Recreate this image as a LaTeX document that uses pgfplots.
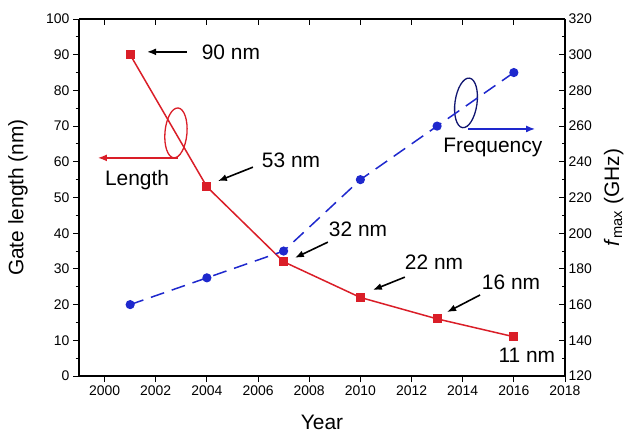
\documentclass[border=0pt]{standalone}
\usepackage{fontspec}
\setmainfont{Liberation Sans}
\usepackage{pgfplots}
\pgfplotsset{compat=1.18}
\usetikzlibrary{arrows.meta}
\definecolor{myred}{RGB}{218,30,40}
\definecolor{myblue}{RGB}{30,40,205}
\newcommand{\bigf}{\fontsize{21}{24}\selectfont}
\tikzset{ann/.style={-{Latex[length=9bp,width=7bp]}, line width=1.6bp}}
\begin{document}
\begin{tikzpicture}
\pgfplotsset{
  common/.style={
    scale only axis, width=486bp, height=357bp,
    xmin=1999, xmax=2018,
    xtick={2000,2002,...,2018}, minor x tick num=1,
    minor y tick num=1,
    major tick length=6bp, minor tick length=3.5bp,
    every tick/.style={black, line width=0.9bp},
    axis line style={line width=1.2bp, black},
    tick label style={font=\fontsize{14}{16}\selectfont},
    /pgf/number format/assume math mode=true,
    x tick label style={/pgf/number format/1000 sep={}},
    clip=false,
  }
}
\begin{axis}[common,
  ymin=0, ymax=100, ytick={0,10,...,100},
  axis x line*=bottom, axis y line*=left,
  tick align=outside,
  xlabel={Year}, ylabel={Gate length (nm)},
  x label style={at={(axis description cs:0.5,-0.13)}, anchor=center, font=\bigf},
  y label style={at={(axis description cs:-0.1255,0.5)}, anchor=center, font=\bigf},
]
\coordinate (bl) at (rel axis cs:0,0);
\addplot[myred, line width=1.5bp, mark=square*, mark size=3.8bp,
  mark options={solid, fill=myred, draw=myred}]
  coordinates {(2001,90)(2004,53)(2007,32)(2010,22)(2013,16)(2016,11)};
% annotations
\node[font=\bigf] at (axis cs:2004.94,90.8) {90 nm};
\draw[ann] (axis cs:2003.22,90.8) -- (axis cs:2001.66,90.8);
\node[font=\bigf] at (axis cs:2007.29,60.5) {53 nm};
\draw[ann] (axis cs:2005.80,58.5) -- (axis cs:2004.43,54.6);
\node[font=\bigf] at (axis cs:2009.91,41.2) {32 nm};
\draw[ann] (axis cs:2008.73,37.5) -- (axis cs:2007.44,33.1);
\node[font=\bigf] at (axis cs:2012.88,31.9) {22 nm};
\draw[ann] (axis cs:2011.74,27.7) -- (axis cs:2010.49,24.1);
\node[font=\bigf] at (axis cs:2015.89,26.3) {16 nm};
\draw[ann] (axis cs:2014.68,22.7) -- (axis cs:2013.39,17.9);
\node[font=\bigf] at (axis cs:2016.51,5.9) {11 nm};
% Length marker
\draw[myred, line width=1.3bp] (axis cs:2002.79,68.1) ellipse [x radius=11bp, y radius=25bp, rotate=-5];
\draw[myred, ann, line width=1.4bp] (axis cs:2002.87,61.1) -- (axis cs:1999.74,61.1);
\node[font=\bigf] at (axis cs:2001.27,54.9) {Length};
% Frequency marker
\draw[myblue!55!black, line width=1.3bp] (axis cs:2014.13,76.5) ellipse [x radius=11bp, y radius=25bp, rotate=-8];
\draw[myblue, ann, line width=1.4bp] (axis cs:2014.21,69.2) -- (axis cs:2016.83,69.2);
\node[font=\bigf] at (axis cs:2015.18,63.9) {Frequency};
\end{axis}
\begin{axis}[common,
  ymin=120, ymax=320, ytick={120,140,...,320},
  axis x line*=top, axis y line*=right,
  xticklabels={},
  tick align=inside,
  ylabel={\textit{f}\textsubscript{max} (GHz)},
  y label style={at={(axis description cs:1.1,0.5)}, anchor=center, font=\bigf},
]
\addplot[myblue, line width=1.5bp, dash pattern=on 14bp off 8bp, mark=*, mark size=3.8bp,
  mark options={solid, fill=myblue, draw=myblue}]
  coordinates {(2001,160)(2004,175)(2007,190)(2010,230)(2013,260)(2016,290)};
\end{axis}
\pgfresetboundingbox
\path[use as bounding box] ([shift={(-79bp,-61bp)}]bl) rectangle ([shift={(552bp,376bp)}]bl);
\end{tikzpicture}
\end{document}
